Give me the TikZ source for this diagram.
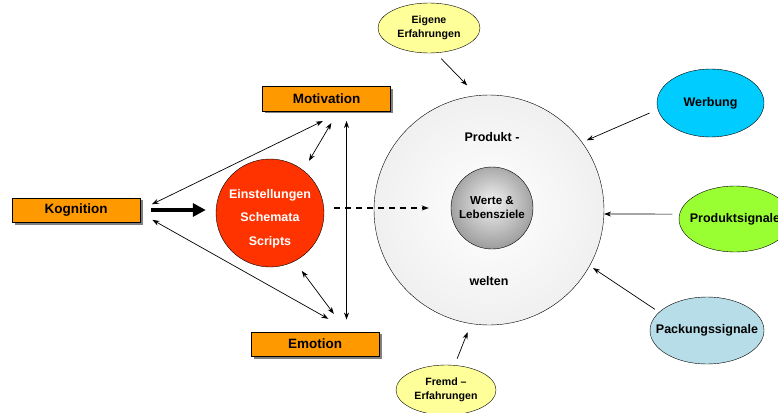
\documentclass[tikz,border=0pt]{standalone}
\usepackage{fontspec}
\setmainfont{Liberation Sans}
\usepackage{tikz}
\usetikzlibrary{arrows.meta,shapes.geometric,shadows}
\definecolor{boxorange}{RGB}{255,153,0}
\definecolor{attred}{RGB}{255,51,0}
\definecolor{softyellow}{RGB}{255,255,153}
\definecolor{adblue}{RGB}{0,204,255}
\definecolor{signalgreen}{RGB}{153,255,51}
\definecolor{packblue}{RGB}{183,222,232}
\pgfdeclareradialshading{worldshade}{\pgfpointorigin}{color(0bp)=(white); color(50bp)=(black!12)}
\pgfdeclareradialshading{valueshade}{\pgfpoint{0bp}{4bp}}{color(0bp)=(black!5); color(24bp)=(black!35); color(50bp)=(black!72)}

\begin{document}
\begin{tikzpicture}[x=1pt,y=-1pt,
  box/.style={draw,fill=boxorange,minimum width=128pt,minimum height=24.5pt,
              font=\fontsize{13.5}{16}\selectfont\bfseries,
              drop shadow={shadow xshift=2.5pt,shadow yshift=-2.5pt,fill=black!50,opacity=1}},
  att/.style={circle,draw,fill=attred,text=white,minimum size=108pt,inner sep=0pt,
              align=center,text height=67pt,font=\fontsize{12.5}{23.5}\selectfont\bfseries},
  world/.style={circle,draw,shading=worldshade,minimum size=230pt,inner sep=0pt},
  value/.style={circle,draw,shading=valueshade,minimum size=82pt,inner sep=0pt,
              align=center,font=\fontsize{11.6}{14}\selectfont\bfseries},
  oval/.style={ellipse,draw,inner xsep=-12pt,inner ysep=0pt,align=center,
              font=\fontsize{12.5}{15}\selectfont\bfseries},
  small/.style={font=\fontsize{10.6}{14}\selectfont\bfseries},
  plain/.style={font=\fontsize{12.5}{15}\selectfont\bfseries},
  link/.style={<->,line width=0.7pt},
  feed/.style={->,line width=0.7pt},
  fat/.style={line width=4pt,-{Triangle[length=13pt,width=13pt]}},
  >={Stealth[length=7pt,width=5pt]}]
\clip (0,0) rectangle (778,412);
\node[box] (kog) at (76,210) {Kognition};
\node[box] (mot) at (326.5,98.5) {Motivation};
\node[box] (emo) at (315,344) {Emotion};
\node[att] (att) at (270,213) {Einstellungen\\Schemata\\Scripts};
\node[world] (prod) at (489,210) {};
\node[value] (val) at (492,208) {Werte \&\\Lebensziele};
\node[plain] (prodtop) at (492,137) {Produkt -};
\node[plain] (prodbot) at (489,281) {welten};
\node[oval,small,fill=softyellow,minimum width=102pt,minimum height=50pt] (eig) at (429,28) {Eigene\\Erfahrungen};
\node[oval,small,fill=softyellow,minimum width=100pt,minimum height=50pt] (frem) at (446,390) {Fremd --\\Erfahrungen};
\node[oval,fill=adblue,minimum width=107pt,minimum height=68pt] (werb) at (710.5,103) {Werbung};
\node[oval,fill=signalgreen,minimum width=112pt,minimum height=66pt] (psig) at (735,219) {Produktsignale};
\node[oval,fill=packblue,minimum width=114pt,minimum height=67pt] (pack) at (707,330.5) {Packungssignale};
\draw[fat,shorten <=11pt,shorten >=10pt] (kog.east) -- (kog.east -| att.west);
\draw[link,shorten <=13pt,shorten >=23pt] (kog.east) -- ([xshift=17pt]mot.south);
\draw[link,shorten <=14pt,shorten >=26pt] ([yshift=-3pt]kog.east) -- ([xshift=36pt]emo.north);
\draw[link,shorten <=11pt,shorten >=14pt] (att.52) -- ([xshift=12pt]mot.south);
\draw[link,shorten <=12pt,shorten >=22pt] (att.-63) -- ([xshift=32pt]emo.north);
\draw[link,shorten <=10pt,shorten >=12pt] ([xshift=20pt]mot.south) -- ([xshift=20pt]mot.south |- emo.north);
\draw[->,line width=1.2pt,dash pattern=on 6pt off 5pt,shorten <=10pt,shorten >=22pt] (att.east |- val.west) -- (val.west);
\draw[feed,shorten <=8pt,shorten >=14pt] (eig.-75) -- (prod.96);
\draw[feed,shorten <=9pt,shorten >=5pt] (werb.187) -- (prod.36);
\draw[feed,shorten <=7pt] (psig.175) -- (prod.-2);
\draw[feed,shorten <=5pt,shorten >=4pt] (pack.159) -- (prod.-29);
\draw[feed,shorten <=7pt,shorten >=9pt] (frem.71) -- (prod.-99);
\end{tikzpicture}
\end{document}
